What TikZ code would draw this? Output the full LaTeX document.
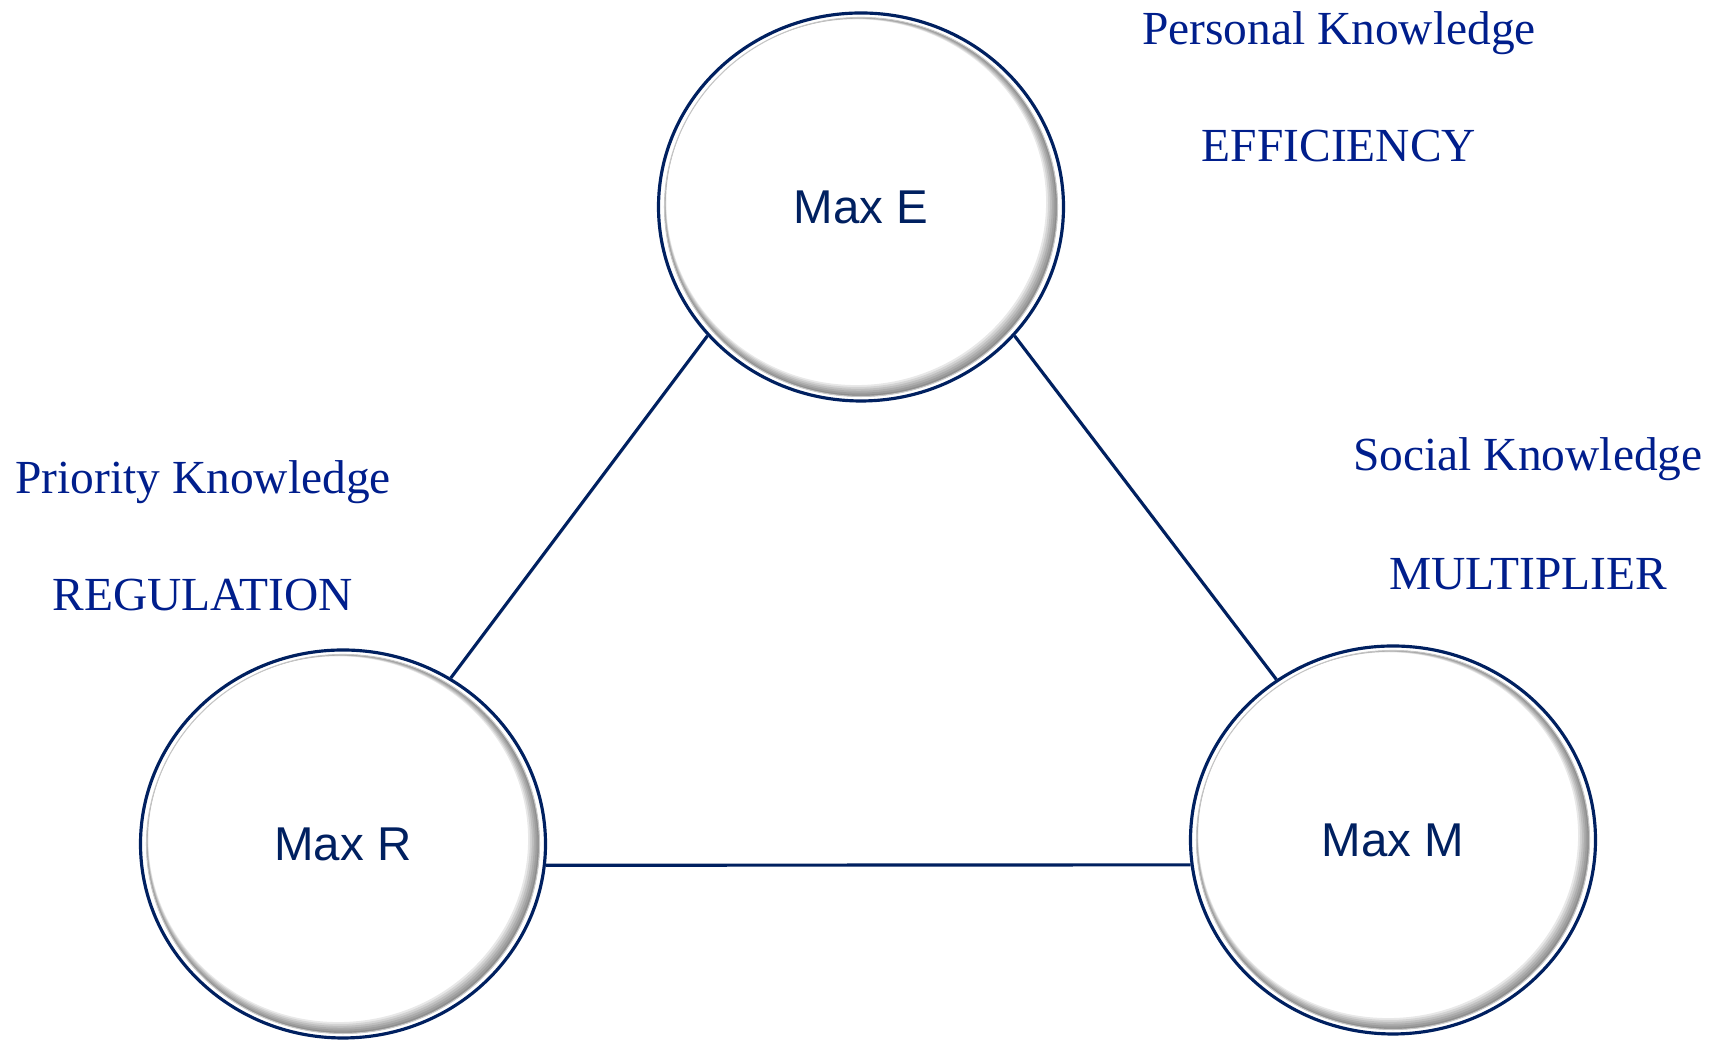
\documentclass[tikz,border=0pt]{standalone}
\usepackage{fontspec}
\setmainfont{Liberation Serif}
\setsansfont{Liberation Sans}
\usetikzlibrary{shapes.geometric,positioning,calc}
\definecolor{navy}{RGB}{0,32,96}
\definecolor{lblue}{RGB}{0,30,140}

\begin{document}
\begin{tikzpicture}[maxnode/.style={ellipse,draw=navy,line width=0.9pt,fill=white,
      minimum width=4.05cm,minimum height=3.88cm,inner sep=0pt,text=navy,
      font=\sffamily\fontsize{13.5}{16}\selectfont,
      path picture={
        \coordinate (pc) at (path picture bounding box.center);
        \foreach \k in {1,...,6}
          \fill[black,opacity=0.09,even odd rule] (pc) ellipse (1.965 and 1.895)
            ($(pc)+(-0.008*\k,0.008*\k)$) ellipse ({1.965-0.011*\k} and {1.895-0.011*\k});
        \draw[gray!45,line width=0.3pt] (pc) ellipse (1.965 and 1.895);
      }},
    know/.style={text=lblue,font=\fontsize{13.5}{16}\selectfont,text height=0.66em,text depth=0pt,inner sep=0pt},
    conn/.style={draw=navy,line width=0.9pt},
    node distance=1.17cm, on grid]
  \useasboundingbox (0,0) rectangle (17.23,10.40);

  % The three Max states
  \node[maxnode] (e) at (8.61,8.33) {Max E};
  \node[maxnode] (r) at (3.43,1.96) {Max R};
  \node[maxnode] (m) at (13.93,2.00) {Max M};

  % Knowledge labels
  \node[know] (pk) at (13.39,10.07) {Personal Knowledge};
  \node[know] (eff) [below=of pk] {EFFICIENCY};
  \node[know] (prk) at (2.03,5.585) {Priority Knowledge};
  \node[know] (reg) [below=of prk] {REGULATION};
  \node[know] (sk) at (15.28,5.81) {Social Knowledge};
  \node[know] (mul) [below=1.185cm of sk] {MULTIPLIER};

  % Lines between the states
  \path[conn]
    (e.220) edge (r.57)
    (e.320) edge (m.126)
    (r.-6) edge (m.187);
\end{tikzpicture}
\end{document}
